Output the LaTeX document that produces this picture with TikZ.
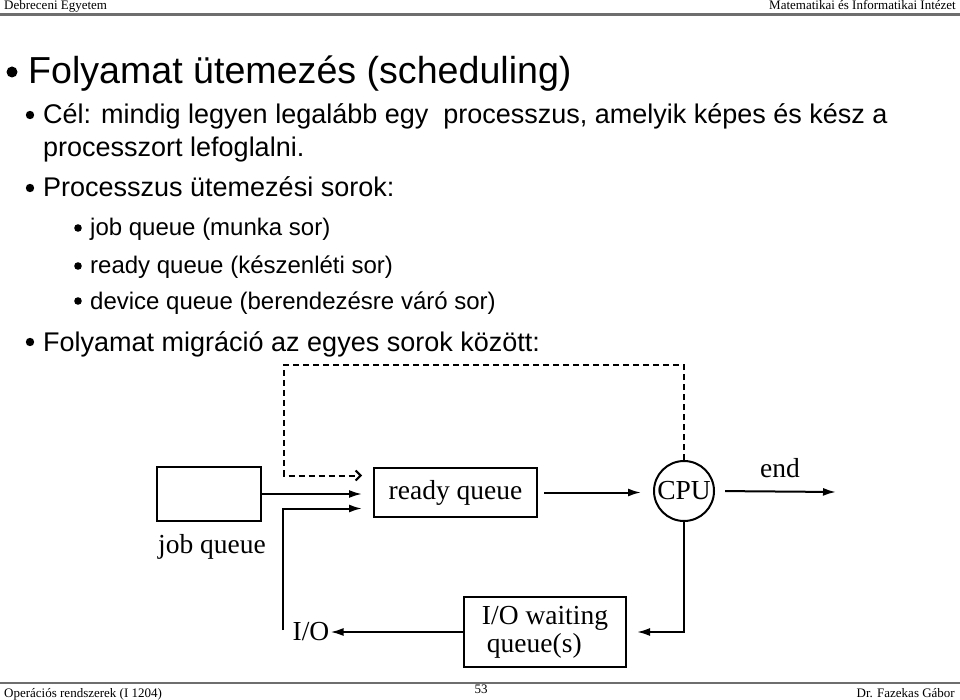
\documentclass[tikz,border=0pt]{standalone}
\usepackage{fontspec}
\setmainfont{Liberation Serif}
\setsansfont{Liberation Sans}
\usetikzlibrary{arrows.meta, positioning, calc}
\definecolor{rulegray}{HTML}{6E6E6E}

\begin{document}
\begin{tikzpicture}[x=1pt, y=-1pt,
        txt/.style={anchor=base west, inner sep=0pt,
                    font=\sffamily\fontsize{27}{27}\selectfont},
        sub/.style={txt, font=\sffamily\fontsize{24}{24}\selectfont},
        hdr/.style={inner sep=0pt, font=\fontsize{13}{13}\selectfont},
        dg/.style={font=\fontsize{27.5}{28}\selectfont},
        box/.style={dg, draw, line width=2pt, inner sep=0pt},
        arr/.style={line width=2pt, -{Latex[length=13pt, width=8pt]}},
        fb/.style={line width=2pt, dash pattern=on 6pt off 4pt,
                   -{Straight Barb[length=5pt, width=10pt]}},
      ]
      \useasboundingbox (0,0) rectangle (960,700);

      % Header and footer
      \node[hdr, anchor=base west] (uni) at (4,10) {Debreceni Egyetem};
      \node[hdr, anchor=base east] (inst) at (956,10) {Matematikai és Informatikai Intézet};
      \draw[rulegray, line width=3pt] (0,15) -- (960,15);
      \draw[rulegray, line width=1.8pt] (0,683) -- (960,683);
      \node[hdr, anchor=base west] (course) at (4,697) {Operációs rendszerek (I 1204)};
      \node[hdr, anchor=base] (page) at (481,693) {53};
      \node[hdr, anchor=base east] (author) at (955,697) {Dr. Fazekas Gábor};

      % Slide text
      \node[txt, font=\sffamily\fontsize{37.6}{40}\selectfont] (title) at (28,84)
            {Folyamat ütemezés (scheduling)};
      \node[txt] (goal) at (43,124)
            {Cél: mindig legyen legalább egy~ processzus, amelyik képes és kész a};
      \node[txt] (goal2) at (43,157) {processzort lefoglalni.};
      \node[txt] (queues) at (43,197) {Processzus ütemezési sorok:};
      \node[sub] (jobs) at (90,236) {job queue (munka sor)};
      \node[sub] (ready) at (90,274) {ready queue (készenléti sor)};
      \node[sub] (dev) at (90,309) {device queue (berendezésre váró sor)};
      \node[txt] (migr) at (43,351) {Folyamat migráció az egyes sorok között:};

      % Bullets
      \fill (12,72) circle (5.5);
      \foreach \y in {115,188,342} \fill (30,\y) circle (4.2);
      \foreach \y in {228,266,301} \fill (78,\y) circle (3.8);

      % Queue diagram
      \node[box, minimum width=104pt, minimum height=54pt] (jobq) at (209,494) {};
      \node[dg, below=9pt of jobq, xshift=3pt] (jobqlbl) {job queue};
      \node[box, minimum width=163pt, minimum height=49pt] (readyq) at (455.5,492.5) {ready queue};
      \node[dg, circle, draw, line width=2pt, minimum size=60pt, inner sep=0pt] (cpu) at (684,491) {CPU};
      \node[dg] (endlbl) at (780,468) {end};
      \node[box, minimum width=162pt, minimum height=70pt, align=left] (iowait) at (545,632)
            {I/O waiting\\\hspace*{5pt}queue(s)};
      \node[dg, inner sep=1pt] (io) at (311,632) {I/O};
      \coordinate (endpt) at (836,492);
      \coordinate (fbtop) at (284,365);
      \coordinate (iobend) at (283,630);

      \draw[arr, shorten >=11pt] (jobq.east) -- (jobq.east -| readyq.west);
      \draw[arr, shorten <=6pt, shorten >=12pt] (readyq.east) -- (readyq.east -| cpu.west);
      \draw[arr, shorten <=10pt] (cpu.east) -- (endpt);
      \draw[arr, shorten >=10pt] (cpu.south) |- (iowait.east);
      \draw[arr] (iowait.west) -- (io.east);
      \draw[arr, shorten >=11pt] (iobend) |- ([yshift=-16pt]readyq.west);
      \draw[fb, shorten >=11pt] (cpu.north) |- (fbtop) |- ([yshift=17pt]readyq.west);
      \end{tikzpicture}
\end{document}
